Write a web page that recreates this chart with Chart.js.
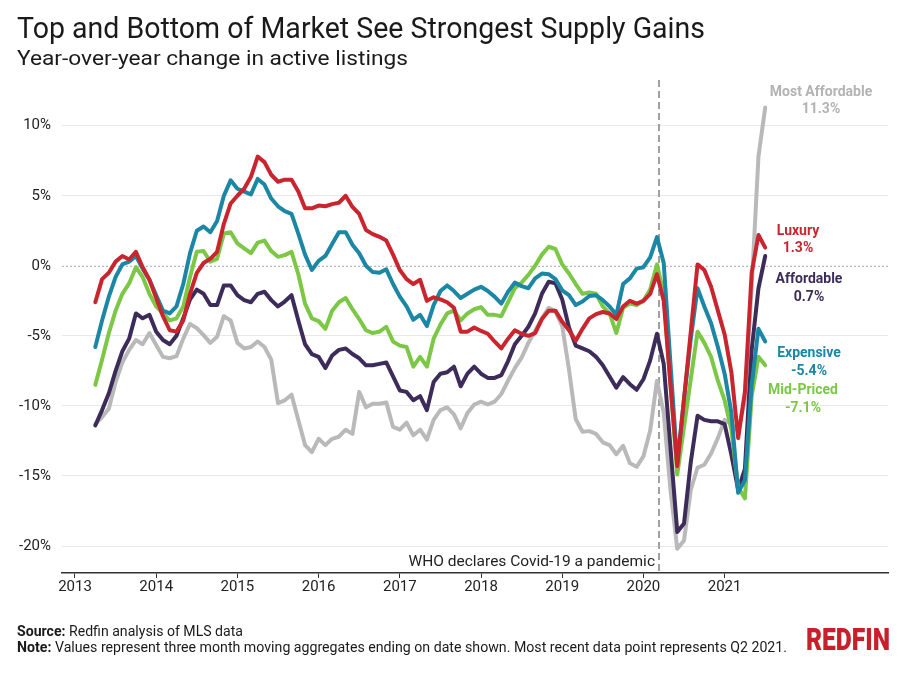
<!DOCTYPE html>
<html><head><meta charset="utf-8">
<script src="https://cdn.jsdelivr.net/npm/chart.js@4.4.0/dist/chart.umd.min.js"></script>
<style>
html,body{margin:0;padding:0;background:#fff;}
#wrap{position:relative;width:900px;height:675px;overflow:hidden;background:#fff;}
#c{position:absolute;left:0;top:0;}
.txt{position:absolute;white-space:nowrap;font-family:Roboto,'Liberation Sans',sans-serif;line-height:1;transform-origin:0 0;color:#1a1a1a;}
</style></head><body>
<div id="wrap">
<canvas id="c" width="900" height="675"></canvas>
<div class="txt fit" data-w="688" style="left:17px;top:14px;font-size:29px;">Top and Bottom of Market See Strongest Supply Gains</div>
<div class="txt fit" data-w="391" style="left:17px;top:48px;font-size:21px;">Year-over-year change in active listings</div>
<div class="txt fit" data-w="226" style="left:17px;top:624px;font-size:14px;"><b>Source:</b> Redfin analysis of MLS data</div>
<div class="txt fit" data-w="770" style="left:17px;top:640px;font-size:14px;"><b>Note:</b> Values represent three month moving aggregates ending on date shown. Most recent data point represents Q2 2021.</div>
<div class="txt fit" data-w="84" style="left:806px;top:624px;font-size:31px;font-weight:900;color:#c8202a;">REDFIN</div>
</div>
<script>
// ---- data ----
const months = [
 '2013-04','2013-05','2013-06','2013-07','2013-08','2013-09','2013-10','2013-11','2013-12',
 '2014-01','2014-02','2014-03','2014-04','2014-05','2014-06','2014-07','2014-08','2014-09','2014-10','2014-11','2014-12',
 '2015-01','2015-02','2015-03','2015-04','2015-05','2015-06','2015-07','2015-08','2015-09','2015-10','2015-11','2015-12',
 '2016-01','2016-02','2016-03','2016-04','2016-05','2016-06','2016-07','2016-08','2016-09','2016-10','2016-11','2016-12',
 '2017-01','2017-02','2017-03','2017-04','2017-05','2017-06','2017-07','2017-08','2017-09','2017-10','2017-11','2017-12',
 '2018-01','2018-02','2018-03','2018-04','2018-05','2018-06','2018-07','2018-08','2018-09','2018-10','2018-11','2018-12',
 '2019-01','2019-02','2019-03','2019-04','2019-05','2019-06','2019-07','2019-08','2019-09','2019-10','2019-11','2019-12',
 '2020-01','2020-02','2020-03','2020-04','2020-05','2020-06','2020-07','2020-08','2020-09','2020-10','2020-11','2020-12',
 '2021-01','2021-02','2021-03','2021-04','2021-05','2021-06','2021-07'
];
const luxury = [
 -2.6,-0.95,-0.5,0.3,0.7,0.45,1.0,-0.1,-1.0,-2.3,
 -3.6,-4.6,-4.7,-3.9,-2.0,-0.5,0.2,0.5,1.0,3.0,
 4.45,5.0,5.5,6.35,7.8,7.4,6.5,6.0,6.15,6.15,
 5.3,4.1,4.1,4.3,4.25,4.4,4.5,5.0,4.2,3.7,
 2.55,2.26,2.07,1.8,0.8,-0.3,-0.95,-1.3,-1.0,-2.5,
 -2.25,-2.4,-2.6,-3.0,-4.7,-4.7,-4.4,-4.65,-4.85,-5.4,
 -5.9,-5.2,-4.6,-4.85,-5.0,-4.8,-3.8,-3.2,-3.2,-4.0,
 -4.6,-5.35,-4.5,-3.75,-3.45,-3.3,-3.4,-3.8,-2.9,-2.5,
 -2.7,-2.5,-2.0,-0.6,-2.5,-8.5,-14.3,-9.5,-4.7,0.1,
 -0.3,-1.5,-3.2,-4.9,-7.6,-12.3,-9.0,-0.5,2.2,1.3
];
const expensive = [
 -5.8,-3.9,-2.2,-0.8,0.1,0.3,0.7,-0.2,-1.0,-2.1,
 -3.2,-3.4,-2.9,-1.3,0.9,2.5,2.8,2.4,3.2,5.0,
 6.1,5.5,5.3,5.1,6.2,5.8,4.8,4.25,3.9,3.7,
 2.3,0.8,-0.3,0.35,0.7,1.55,2.4,2.4,1.5,0.9,
 0.0,-0.45,-0.5,-0.25,-1.3,-2.2,-2.9,-3.85,-3.5,-4.3,
 -2.8,-1.8,-1.4,-1.8,-2.3,-2.0,-1.7,-1.5,-1.8,-2.2,
 -2.7,-1.85,-1.2,-1.45,-1.6,-0.9,-0.55,-0.6,-0.95,-1.75,
 -2.1,-2.8,-2.55,-2.15,-2.1,-2.45,-2.9,-3.5,-1.3,-0.9,
 -0.2,-0.1,0.6,2.05,0.2,-7.0,-14.1,-9.5,-5.2,-1.6,
 -2.9,-4.1,-5.8,-7.7,-10.5,-16.2,-15.3,-8.5,-4.5,-5.4
];
const midPriced = [
 -8.5,-6.7,-4.8,-3.2,-2.0,-1.26,-0.1,-0.8,-2.0,-2.9,
 -3.4,-3.9,-3.75,-2.9,-0.8,1.0,1.05,0.3,0.5,2.3,
 2.4,1.6,1.24,0.9,1.65,1.8,1.05,0.64,0.76,1.0,
 -0.6,-2.7,-3.75,-3.95,-4.5,-3.2,-2.6,-2.3,-3.1,-3.8,
 -4.6,-4.8,-4.7,-4.35,-5.4,-5.7,-5.8,-7.2,-6.5,-7.2,
 -5.2,-4.2,-3.4,-3.2,-3.9,-3.4,-3.1,-2.95,-3.5,-3.5,
 -3.6,-2.6,-1.6,-1.2,-0.65,0.0,0.8,1.36,1.2,0.1,
 -0.55,-1.3,-2.0,-1.9,-2.0,-2.9,-3.4,-4.8,-3.0,-2.7,
 -2.8,-2.5,-1.7,0.1,-2.0,-8.5,-14.9,-11.5,-8.1,-4.7,
 -5.5,-6.5,-8.2,-9.6,-11.7,-15.8,-16.6,-9.3,-6.5,-7.1
];
const affordable = [
 -11.4,-10.3,-9.1,-7.5,-6.1,-5.2,-3.4,-3.75,-3.5,-4.7,
 -5.3,-5.6,-5.0,-3.75,-2.4,-1.7,-2.0,-2.8,-2.8,-1.4,
 -1.4,-2.1,-2.45,-2.6,-2.0,-1.85,-2.45,-2.9,-2.55,-2.1,
 -3.9,-5.6,-6.3,-6.5,-7.3,-6.4,-6.0,-5.9,-6.3,-6.6,
 -7.1,-7.1,-7.0,-6.9,-7.9,-8.9,-9.0,-9.6,-9.3,-10.3,
 -8.3,-7.7,-7.6,-7.2,-8.6,-7.7,-7.2,-7.7,-8.0,-8.0,
 -7.8,-6.8,-5.6,-5.0,-4.35,-3.4,-2.0,-1.14,-1.25,-2.4,
 -4.4,-5.7,-5.9,-6.1,-6.5,-7.1,-7.9,-8.7,-7.95,-8.45,
 -8.85,-8.1,-6.75,-4.85,-7.0,-13.0,-19.0,-18.4,-14.0,-10.7,
 -11.0,-11.1,-11.1,-11.3,-13.5,-16.0,-14.5,-6.0,-1.6,0.7
];
const mostAffordable = [
 -11.3,-10.8,-10.2,-8.3,-6.9,-6.0,-5.3,-5.6,-4.8,-5.65,
 -6.5,-6.6,-6.45,-5.2,-4.15,-4.45,-4.95,-5.5,-5.06,-3.6,
 -3.9,-5.5,-5.9,-5.8,-5.4,-5.8,-6.7,-9.8,-9.6,-9.2,
 -11.0,-12.8,-13.3,-12.35,-12.8,-12.35,-12.2,-11.7,-12.0,-9.0,
 -10.1,-9.85,-9.85,-9.75,-11.5,-11.7,-11.2,-12.1,-11.7,-12.4,
 -11.0,-10.3,-10.1,-10.6,-11.6,-10.5,-9.9,-9.7,-9.9,-9.7,
 -9.15,-8.2,-7.3,-6.55,-5.5,-4.65,-3.75,-3.0,-3.25,-4.3,
 -7.4,-10.95,-11.85,-11.8,-12.0,-12.6,-12.8,-13.45,-12.85,-14.1,
 -14.35,-13.6,-11.75,-8.2,-10.5,-16.0,-20.2,-19.6,-16.0,-14.4,
 -14.2,-13.4,-12.3,-11.0,-11.3,-11.8,-9.5,-1.5,7.8,11.3
];
const seriesNames = ['Luxury','Expensive','Mid-Priced','Affordable','Most Affordable'];
const seriesValues = [luxury, expensive, midPriced, affordable, mostAffordable];
const seriesColors = ['#c9252f','#1b87a5','#7cc846','#3d2c5a','#b9b9b9'];
const labelColors  = ['#c9252f','#1b87a5','#7cc846','#3d2c5a','#b3b3b3'];
const labelPos = [[798,231,248],[809,353,371],[803,390,408],[809,279,297],[821,92,109]];
const xTicks = [2013,2014,2015,2016,2017,2018,2019,2020,2021];
const yTicks = [-20,-15,-10,-5,0,5,10];
const covidDate = 2020.19; // 11 March 2020
const covidText = 'WHO declares Covid-19 a pandemic';

// ---- helpers ----
const toYear = m => { const [y,mo] = m.split('-').map(Number); return y + (mo-1)/12; };

const overlay = {
  id:'overlay',
  beforeDatasetsDraw(chart){
    const {ctx, chartArea:a, scales:{x,y}} = chart;
    ctx.save();
    const y0 = y.getPixelForValue(0);
    ctx.strokeStyle = '#a9a9a9'; ctx.lineWidth = 1; ctx.setLineDash([2,2]);
    ctx.beginPath(); ctx.moveTo(a.left, y0+0.5); ctx.lineTo(a.right, y0+0.5); ctx.stroke();
    const cx = Math.round(x.getPixelForValue(covidDate));
    ctx.strokeStyle = '#a0a0a0'; ctx.lineWidth = 2; ctx.setLineDash([7,4]);
    ctx.beginPath(); ctx.moveTo(cx, a.top); ctx.lineTo(cx, a.bottom); ctx.stroke();
    ctx.setLineDash([]);
    ctx.fillStyle = '#222'; ctx.font = '15.5px Roboto'; ctx.textAlign = 'right'; ctx.textBaseline = 'alphabetic';
    ctx.fillText(covidText, cx - 4, a.bottom - 7);
    ctx.restore();
  },
  afterDatasetsDraw(chart){
    const {ctx} = chart;
    ctx.save();
    ctx.font = 'bold 14px Roboto'; ctx.textAlign = 'center'; ctx.textBaseline = 'middle';
    seriesNames.forEach((n,i)=>{
      const v = seriesValues[i][seriesValues[i].length-1];
      ctx.fillStyle = labelColors[i];
      ctx.fillText(n, labelPos[i][0], labelPos[i][1]);
      ctx.fillText(v.toFixed(1)+'%', labelPos[i][0], labelPos[i][2]);
    });
    ctx.restore();
  }
};

new Chart(document.getElementById('c'), {
  type:'line',
  data:{
    datasets: seriesNames.map((n,i)=>({
      label:n,
      data: seriesValues[i].map((v,k)=>({x:toYear(months[k]), y:v})),
      borderColor: seriesColors[i], borderWidth:4, pointRadius:0, tension:0,
      borderJoinStyle:'round', borderCapStyle:'round', fill:false
    }))
  },
  options:{
    responsive:false, animation:false, devicePixelRatio:1,
    layout:{padding:{top:80,right:12,left:0,bottom:0}},
    plugins:{legend:{display:false}, tooltip:{enabled:false}},
    scales:{
      x:{type:'linear', min:2012.84, max:2023.012,
        afterBuildTicks: s => { s.ticks = xTicks.map(v=>({value:v})); },
        afterFit: s => { s.height = 102; },
        grid:{drawOnChartArea:false, drawTicks:true, tickLength:5, color:'#333', lineWidth:1},
        border:{display:true, color:'#333', width:1.5},
        ticks:{padding:0, color:'#222', font:{family:'Roboto', size:15}, maxRotation:0, autoSkip:false, callback:v=>String(v)}
      },
      y:{min:-21.927, max:13.262,
        afterBuildTicks: s => { s.ticks = yTicks.map(v=>({value:v})); },
        afterFit: s => { s.width = 62; },
        grid:{color: c => (c.tick && c.tick.value === 0) ? 'rgba(0,0,0,0)' : '#e8e8e8', lineWidth:1, drawTicks:false},
        border:{display:false},
        ticks:{padding:11, color:'#222', font:{family:'Roboto', size:15}, callback:v=>v+'%'}
      }
    }
  },
  plugins:[overlay]
});

document.querySelectorAll('.fit').forEach(el=>{
  const w = +el.dataset.w; const cur = el.getBoundingClientRect().width;
  if (cur > 0) el.style.transform = 'scaleX(' + (w/cur) + ')';
});
</script>
</body></html>
